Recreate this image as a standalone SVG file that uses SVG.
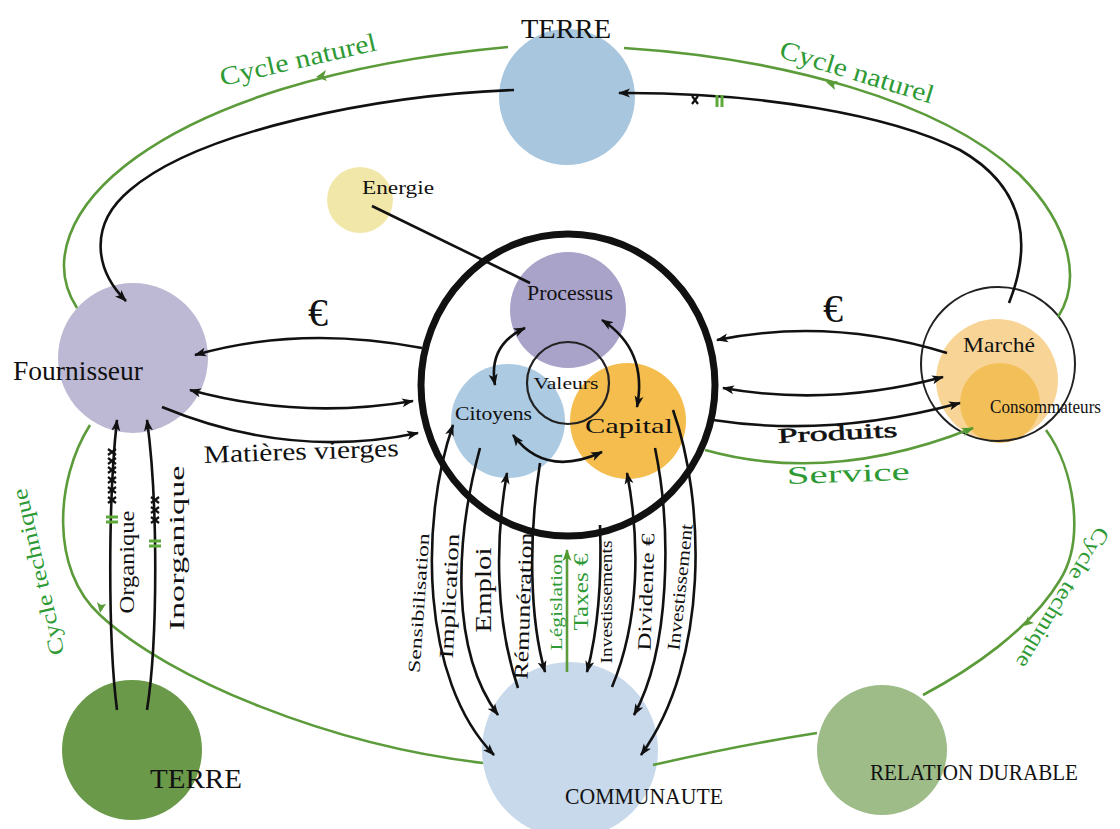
<svg xmlns="http://www.w3.org/2000/svg" width="1120" height="829" viewBox="0 0 1120 829">
<style>
text{font-family:"Liberation Serif","Times New Roman",serif;fill:#111}
.g{fill:#2e9a35}
.ln{fill:none;stroke:#111;stroke-width:2.6}
.gl{fill:none;stroke:#5b9b3a;stroke-width:2.6}
.c{dominant-baseline:central;text-anchor:middle}
</style>
<defs>
<marker id="ah" viewBox="0 0 12 10" refX="11" refY="5" markerWidth="12" markerHeight="10" markerUnits="userSpaceOnUse" orient="auto-start-reverse"><path d="M0,0.5 L12,5 L0,9.5 L3,5 z" fill="#111"/></marker>
<marker id="ag" viewBox="0 0 12 10" refX="11" refY="5" markerWidth="12" markerHeight="10" markerUnits="userSpaceOnUse" orient="auto-start-reverse"><path d="M0,0.5 L12,5 L0,9.5 L3,5 z" fill="#4f9a30"/></marker>
<g id="xk"><path d="M-4,-3 L4,3 M-4,3 L4,-3" stroke="#111" stroke-width="2.2"/></g>
<g id="gk"><path d="M-6,-2 L6,-2 M-6,3 L6,3" stroke="#5fa83a" stroke-width="3"/></g>
</defs>

<g id="terre-top"><circle cx="567" cy="97" r="68" fill="#a8c6de"/><text x="566" y="38" font-size="28" text-anchor="middle" textLength="90" lengthAdjust="spacingAndGlyphs">TERRE</text></g>
<g id="energie"><circle cx="360" cy="200" r="33" fill="#f1e7a8"/><text x="362" y="194" font-size="19" textLength="72" lengthAdjust="spacingAndGlyphs">Energie</text></g>
<g id="fournisseur"><circle cx="133" cy="358" r="75" fill="#bdb9d4"/><text x="13" y="380" font-size="28" textLength="130" lengthAdjust="spacingAndGlyphs">Fournisseur</text></g>
<g id="marche"><circle cx="997" cy="380" r="61" fill="#f8d597"/><circle cx="1000" cy="403" r="40" fill="#f3bf58"/><circle cx="998" cy="364" r="77" fill="none" stroke="#222" stroke-width="2"/><text x="999" y="352" font-size="22" text-anchor="middle" textLength="72" lengthAdjust="spacingAndGlyphs">Marché</text><text x="990" y="413" font-size="18" textLength="111" lengthAdjust="spacingAndGlyphs">Consommateurs</text></g>
<g id="entreprise">
<circle cx="568" cy="310" r="58" fill="#a9a2c9"/>
<circle cx="508" cy="421" r="57" fill="#a8c8e2" fill-opacity="0.95"/>
<circle cx="628" cy="421" r="58" fill="#f3b944" fill-opacity="0.95"/>
<ellipse cx="568" cy="385" rx="147" ry="151" fill="none" stroke="#111" stroke-width="7"/>
<circle cx="568" cy="383" r="41" fill="none" stroke="#222" stroke-width="2.2"/>
</g>
<g id="processus"><text x="570" y="300" font-size="22" text-anchor="middle" textLength="86" lengthAdjust="spacingAndGlyphs">Processus</text></g>
<g id="valeurs"><text x="566" y="389" font-size="17" text-anchor="middle" textLength="65" lengthAdjust="spacingAndGlyphs">Valeurs</text></g>
<g id="citoyens"><text x="455" y="420" font-size="18" textLength="77" lengthAdjust="spacingAndGlyphs">Citoyens</text></g>
<g id="capital"><text x="585" y="433" font-size="22" textLength="88" lengthAdjust="spacingAndGlyphs">Capital</text></g>
<g id="terre-bas"><circle cx="132" cy="750" r="70" fill="#6a994a"/><text x="150" y="788" font-size="28" textLength="92" lengthAdjust="spacingAndGlyphs">TERRE</text></g>
<g id="communaute"><circle cx="570" cy="750" r="88" fill="#c7d9ea"/><text x="565" y="804" font-size="24" textLength="158" lengthAdjust="spacingAndGlyphs">COMMUNAUTE</text></g>
<g id="relation"><circle cx="882" cy="750" r="65" fill="#9dbc88"/><text x="870" y="780" font-size="24" textLength="208" lengthAdjust="spacingAndGlyphs">RELATION DURABLE</text></g>

<g id="connectors">
<!-- natural cycle (green) -->
<path class="gl" d="M77,308 C20,220 150,80 508,47"/>
<path class="gl" d="M624,48 C780,58 940,100 1020,175 C1070,225 1082,280 1058,317"/>
<path d="M316,77 l10,-7 l-2,6 l3,5 z" fill="#5b9b3a"/>
<path d="M826,82 l12,-1 l-4,4 l1,5 z" fill="#5b9b3a"/>
<!-- technical cycle (green) -->
<path class="gl" d="M90,425 C55,480 50,570 100,615 C170,680 330,745 483,763"/>
<path class="gl" d="M1046,430 C1075,470 1085,540 1060,580 C1030,630 970,670 923,695"/>
<path class="gl" d="M817,733 Q740,745 653,765"/>
<path d="M100,613 l-3,-11 l4,3 l5,-1 z" fill="#5b9b3a"/>
<path d="M1024,626 l4,-10 l1,5 l5,2 z" fill="#5b9b3a"/>
<!-- earth loops (black) -->
<path class="ln" marker-end="url(#ah)" d="M514,90 C380,95 200,130 130,190 C88,225 95,270 126,301"/>
<path class="ln" marker-end="url(#ah)" d="M1009,303 C1030,250 1030,190 960,150 C890,115 760,92 619,93"/>
<use href="#xk" transform="translate(695,100) rotate(90)"/>
<use href="#gk" transform="translate(720,101) rotate(90)"/>
<!-- energy -->
<path class="ln" d="M372,206 L530,283"/>
<!-- supplier flows -->
<path class="ln" marker-end="url(#ah)" d="M422,348 Q300,325 195,355"/>
<path class="ln" marker-start="url(#ah)" marker-end="url(#ah)" d="M190,390 Q300,420 413,401"/>
<path class="ln" marker-end="url(#ah)" d="M162,407 Q290,460 418,433"/>
<!-- market flows -->
<path class="ln" marker-end="url(#ah)" d="M947,353 Q830,317 717,340"/>
<path class="ln" marker-start="url(#ah)" marker-end="url(#ah)" d="M723,388 Q830,407 943,377"/>
<path class="ln" marker-end="url(#ah)" d="M713,420 Q830,438 960,403"/>
<path class="gl" marker-end="url(#ag)" d="M705,450 Q830,485 973,428"/>
<!-- organic / inorganic -->
<path class="ln" marker-end="url(#ah)" d="M117,710 C108,640 108,500 117,420"/>
<path class="ln" marker-end="url(#ah)" d="M147,710 C158,640 158,500 147,420"/>
<use href="#xk" transform="translate(112,452)"/>
<use href="#xk" transform="translate(112,461)"/>
<use href="#xk" transform="translate(112,470)"/>
<use href="#xk" transform="translate(112,480)"/>
<use href="#xk" transform="translate(112,490)"/>
<use href="#xk" transform="translate(112,500)"/>
<use href="#gk" transform="translate(112,519)"/>
<use href="#xk" transform="translate(155,500)"/>
<use href="#xk" transform="translate(155,510)"/>
<use href="#xk" transform="translate(155,520)"/>
<use href="#gk" transform="translate(155,543)"/>
<!-- inner links -->
<path class="ln" marker-start="url(#ah)" marker-end="url(#ah)" d="M525,328 Q488,345 495,385"/>
<path class="ln" marker-start="url(#ah)" marker-end="url(#ah)" d="M602,320 Q648,350 637,407"/>
<path class="ln" marker-start="url(#ah)" marker-end="url(#ah)" d="M513,435 Q545,478 602,452"/>
<!-- community flows -->
<path class="ln" marker-start="url(#ah)" marker-end="url(#ah)" d="M453,425 C420,520 420,680 494,755"/>
<path class="ln" marker-end="url(#ah)" d="M480,448 C455,540 450,650 498,715"/>
<path class="ln" marker-end="url(#ah)" d="M518,688 C495,620 495,540 507,473"/>
<path class="ln" marker-end="url(#ah)" d="M540,463 C528,540 530,620 545,672"/>
<path class="gl" marker-end="url(#ag)" d="M567,672 L567,550"/>
<path class="ln" marker-end="url(#ah)" d="M600,525 C602,580 598,630 587,672"/>
<path class="ln" marker-end="url(#ah)" d="M612,687 C640,620 640,540 627,473"/>
<path class="ln" marker-end="url(#ah)" d="M655,448 C672,530 670,650 634,715"/>
<path class="ln" marker-end="url(#ah)" d="M673,410 C705,500 710,660 641,755"/>
</g>

<g id="labels">
<text class="g" font-size="26" transform="translate(222,86) rotate(-13)" textLength="160" lengthAdjust="spacingAndGlyphs">Cycle naturel</text>
<text class="g" font-size="26" transform="translate(778,57) rotate(17)" textLength="160" lengthAdjust="spacingAndGlyphs">Cycle naturel</text>
<text class="g c" font-size="22" transform="translate(38,572) rotate(-103)" textLength="170" lengthAdjust="spacingAndGlyphs">Cycle technique</text>
<text class="g c" font-size="22" transform="translate(1063,598) rotate(121)" textLength="160" lengthAdjust="spacingAndGlyphs">Cycle technique</text>
<text x="318" y="326" font-size="40" text-anchor="middle">€</text>
<text x="833" y="322" font-size="40" text-anchor="middle">€</text>
<text font-size="25" transform="translate(204,463) rotate(-2)" textLength="195" lengthAdjust="spacingAndGlyphs">Matières vierges</text>
<text font-size="21" transform="translate(778,443) rotate(-3)" textLength="120" lengthAdjust="spacingAndGlyphs" stroke="#111" stroke-width="0.5">Produits</text>
<text class="g" font-size="25" transform="translate(787,484) rotate(-2)" textLength="123" lengthAdjust="spacingAndGlyphs">Service</text>
<text class="c" font-size="20" transform="translate(127,562) rotate(-90)" textLength="103" lengthAdjust="spacingAndGlyphs">Organique</text>
<text class="c" font-size="22" transform="translate(176,548) rotate(-90)" textLength="165" lengthAdjust="spacingAndGlyphs">Inorganique</text>
<text class="c" font-size="17" transform="translate(419,603) rotate(-86)" textLength="140" lengthAdjust="spacingAndGlyphs">Sensibilisation</text>
<text class="c" font-size="20" transform="translate(449,596) rotate(-87)" textLength="125" lengthAdjust="spacingAndGlyphs">Implication</text>
<text class="c" font-size="24" transform="translate(483,590) rotate(-90)" textLength="85" lengthAdjust="spacingAndGlyphs">Emploi</text>
<text class="c" font-size="20" transform="translate(523,606) rotate(-88)" textLength="147" lengthAdjust="spacingAndGlyphs">Rémunération</text>
<text class="g c" font-size="17" transform="translate(556,602) rotate(-90)" textLength="97" lengthAdjust="spacingAndGlyphs">Législation</text>
<text class="g c" font-size="22" transform="translate(580,592) rotate(-90)" textLength="77" lengthAdjust="spacingAndGlyphs">Taxes €</text>
<text class="c" font-size="17" transform="translate(606,602) rotate(-90)" textLength="123" lengthAdjust="spacingAndGlyphs">Investissements</text>
<text class="c" font-size="19" transform="translate(646,592) rotate(-88)" textLength="117" lengthAdjust="spacingAndGlyphs">Dividente €</text>
<text class="c" font-size="18" transform="translate(680,587) rotate(-84)" textLength="127" lengthAdjust="spacingAndGlyphs">Investissement</text>
</g>
</svg>
